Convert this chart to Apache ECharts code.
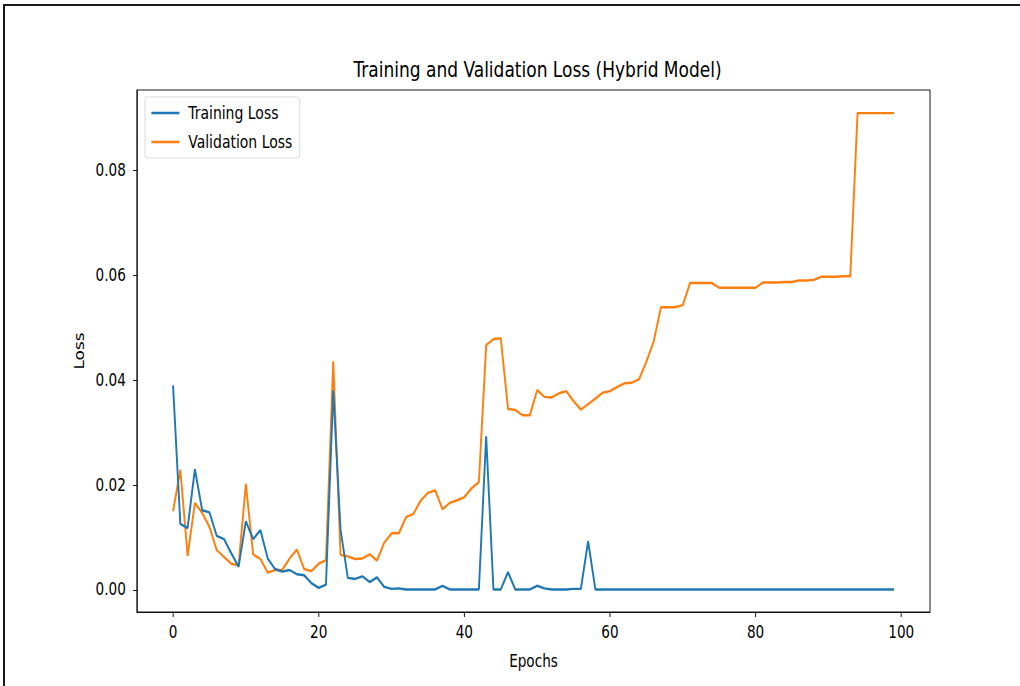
<!DOCTYPE html>
<html>
<head>
<meta charset="utf-8">
<script src="https://cdn.jsdelivr.net/npm/echarts@6/dist/echarts.min.js"></script>
<style>
html,body{margin:0;padding:0;background:#fff;overflow:hidden;}
#frame{position:absolute;left:3px;top:4px;width:1100px;height:700px;border-top:2px solid #1a1a1a;border-left:2px solid #1a1a1a;}
#wrap{position:absolute;left:0;top:0;width:1020px;height:686px;overflow:hidden;}
#chart{position:absolute;left:0;top:0;width:1275px;height:686px;transform:scaleX(0.8);transform-origin:0 0;}
</style>
</head>
<body>
<div id="frame"></div>
<div id="wrap"><div id="chart"></div></div>
<script>
const S = 0.8;
const titleText = "Training and Validation Loss (Hybrid Model)";
const seriesNames = ["Training Loss", "Validation Loss"];
const xTicks = [0, 20, 40, 60, 80, 100];
const yTicks = [0, 0.02, 0.04, 0.06, 0.08];

const trainLoss = [
  0.0390, 0.0126, 0.0118, 0.0230, 0.0152, 0.0148, 0.0103, 0.0097, 0.0070, 0.0044,
  0.0131, 0.0097, 0.0114, 0.0060, 0.0040, 0.0035, 0.0038, 0.0030, 0.0028, 0.0013,
  0.0004, 0.0010, 0.0380, 0.0115, 0.0023, 0.0021, 0.0026, 0.0015, 0.0024, 0.0006,
  0.0002, 0.0003, 0.0001, 0.0001, 0.0001, 0.0001, 0.0001, 0.0008, 0.0001, 0.0001,
  0.0001, 0.0001, 0.0001, 0.0293, 0.0001, 0.0001, 0.0034, 0.0001, 0.0001, 0.0001,
  0.0008, 0.0003, 0.0001, 0.0001, 0.0001, 0.0002, 0.0002, 0.0093, 0.0001, 0.0001,
  0.0001, 0.0001, 0.0001, 0.0001, 0.0001, 0.0001, 0.0001, 0.0001, 0.0001, 0.0001,
  0.0001, 0.0001, 0.0001, 0.0001, 0.0001, 0.0001, 0.0001, 0.0001, 0.0001, 0.0001,
  0.0001, 0.0001, 0.0001, 0.0001, 0.0001, 0.0001, 0.0001, 0.0001, 0.0001, 0.0001,
  0.0001, 0.0001, 0.0001, 0.0001, 0.0001, 0.0001, 0.0001, 0.0001, 0.0001, 0.0001
];

const valLoss = [
  0.0150, 0.0229, 0.0065, 0.0166, 0.0147, 0.0120, 0.0076, 0.0063, 0.0050, 0.0047,
  0.0202, 0.0068, 0.0059, 0.0033, 0.0038, 0.0038, 0.0060, 0.0077, 0.0040, 0.0036,
  0.0050, 0.0057, 0.0436, 0.0067, 0.0064, 0.0059, 0.0060, 0.0068, 0.0056, 0.0090,
  0.0108, 0.0108, 0.0139, 0.0145, 0.0170, 0.0185, 0.0190, 0.0154, 0.0166, 0.0171,
  0.0177, 0.0194, 0.0206, 0.0467, 0.0478, 0.0480, 0.0345, 0.0343, 0.0333, 0.0333,
  0.0381, 0.0368, 0.0367, 0.0375, 0.0379, 0.0360, 0.0344, 0.0354, 0.0365, 0.0376,
  0.0379, 0.0387, 0.0394, 0.0395, 0.0402, 0.0435, 0.0473, 0.0539, 0.0539, 0.0539,
  0.0543, 0.0585, 0.0585, 0.0585, 0.0585, 0.0576, 0.0576, 0.0576, 0.0576, 0.0576,
  0.0576, 0.0586, 0.0586, 0.0586, 0.0587, 0.0587, 0.0590, 0.0590, 0.0591, 0.0597,
  0.0597, 0.0597, 0.0598, 0.0598, 0.0909, 0.0909, 0.0909, 0.0909, 0.0909, 0.0909
];

const FONT = "DejaVu Sans";
const chart = echarts.init(document.getElementById('chart'), null, {renderer: 'svg'});
const option = {
  backgroundColor: 'transparent',
  animation: false,
  title: {
    text: titleText,
    left: 533.5 / S,
    top: 54,
    textAlign: 'center',
    textStyle: {fontFamily: FONT, fontSize: 21.3, fontWeight: 'normal', color: '#000'}
  },
  legend: {
    orient: 'vertical',
    left: 145 / S,
    top: 97,
    padding: [7, 9, 7, 8],
    itemGap: 11,
    itemWidth: 35,
    itemHeight: 2.5,
    icon: 'rect',
    borderColor: '#d6d6d6',
    borderWidth: 1,
    borderRadius: 3,
    backgroundColor: '#fff',
    textStyle: {fontFamily: FONT, fontSize: 17.5, color: '#000', padding: [0, 0, 0, 6]},
    data: seriesNames
  },
  grid: {
    left: 137 / S,
    right: 90 / S,
    top: 90,
    bottom: 74,
    show: true,
    borderColor: '#000',
    borderWidth: 1,
    containLabel: false
  },
  xAxis: {
    type: 'value',
    min: -4.95,
    max: 103.95,
    name: 'Epochs',
    nameLocation: 'middle',
    nameGap: 41,
    nameTextStyle: {fontFamily: FONT, fontSize: 17, color: '#000'},
    axisLine: {show: true, onZero: false, lineStyle: {color: '#000', width: 1}},
    axisTick: {show: true, length: 5, lineStyle: {color: '#000'}, customValues: xTicks},
    axisLabel: {fontFamily: FONT, fontSize: 17, color: '#000', margin: 12, customValues: xTicks},
    splitLine: {show: false}
  },
  yAxis: {
    type: 'value',
    min: -0.0042,
    max: 0.0953,
    name: 'Loss',
    nameLocation: 'middle',
    nameGap: 58,
    nameTextStyle: {fontFamily: FONT, fontSize: 17, color: '#000'},
    axisLine: {show: true, onZero: false, lineStyle: {color: '#000', width: 1}},
    axisTick: {show: true, length: 5, lineStyle: {color: '#000'}, customValues: yTicks},
    axisLabel: {fontFamily: FONT, fontSize: 17, color: '#000', margin: 14,
      customValues: yTicks, formatter: v => v.toFixed(2)},
    splitLine: {show: false}
  },
  series: [
    {
      name: seriesNames[0], type: 'line', symbol: 'none', z: 3,
      lineStyle: {color: '#1f77b4', width: 2.4}, itemStyle: {color: '#1f77b4'},
      data: trainLoss.map((v, i) => [i, v])
    },
    {
      name: seriesNames[1], type: 'line', symbol: 'none', z: 2,
      lineStyle: {color: '#ff7f0e', width: 2.4}, itemStyle: {color: '#ff7f0e'},
      data: valLoss.map((v, i) => [i, v])
    }
  ]
};
chart.setOption(option);
</script>
</body>
</html>
